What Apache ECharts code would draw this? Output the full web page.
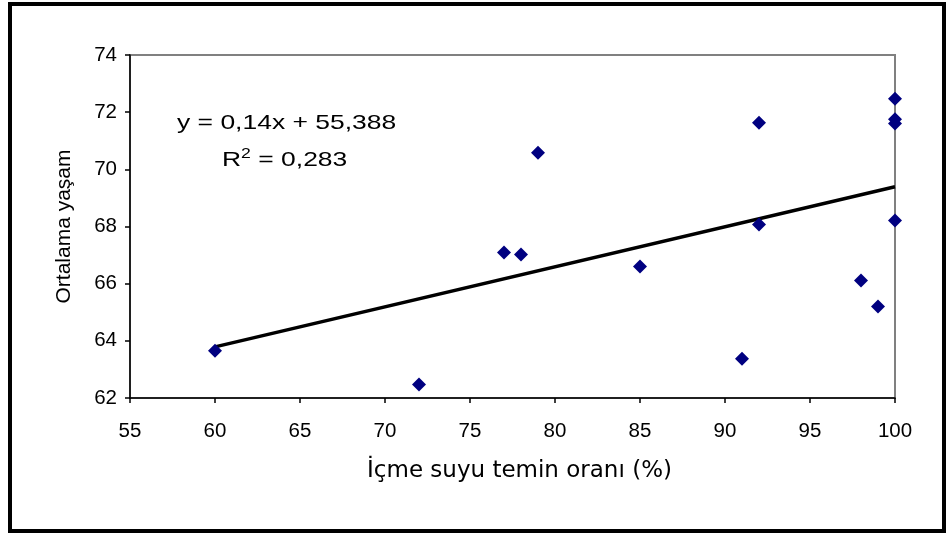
<!DOCTYPE html>
<html>
<head>
<meta charset="utf-8">
<script src="https://cdn.jsdelivr.net/npm/echarts@6/dist/echarts.min.js"></script>
<style>
html,body{margin:0;padding:0;background:#fff;}
#chart{width:946px;height:535px;}
</style>
</head>
<body>
<div id="chart"></div>
<script>
// Data
var waterSupply = [60, 72, 77, 78, 79, 85, 91, 92, 92, 98, 99, 100, 100, 100, 100];
var lifeExpectancy = [63.65, 62.47, 67.09, 67.02, 70.58, 66.6, 63.37, 71.63, 68.07, 66.11, 65.2, 72.47, 71.75, 71.6, 68.21];
var trendSlope = 0.14;
var trendIntercept = 55.388;
var equationText = 'y = 0,14x + 55,388';
var r2Text = '0,283';
var xAxisName = 'İçme suyu temin oranı (%)';
var yAxisName = 'Ortalama yaşam';
var xTicks = [55, 100, 5];
var yTicks = [62, 74, 2];

var points = waterSupply.map(function (x, i) { return [x, lifeExpectancy[i]]; });
var xMin = Math.min.apply(null, waterSupply);
var xMax = Math.max.apply(null, waterSupply);
var trend = [[xMin, trendSlope * xMin + trendIntercept], [xMax, trendSlope * xMax + trendIntercept]];

var chart = echarts.init(document.getElementById('chart'), null, {renderer: 'canvas'});
chart.setOption({
  animation: false,
  backgroundColor: '#ffffff',
  grid: {
    left: 130, right: 51, top: 55, bottom: 137,
    show: true, borderColor: '#808080', borderWidth: 2, backgroundColor: 'transparent'
  },
  xAxis: {
    type: 'value', min: xTicks[0], max: xTicks[1], interval: xTicks[2],
    name: xAxisName, nameLocation: 'middle', nameGap: 62,
    nameTextStyle: {fontFamily: 'DejaVu Sans', fontSize: 23, color: '#000', padding: [0, 0, 0, 14]},
    axisLine: {show: true, onZero: false, lineStyle: {color: '#000', width: 1.5}},
    axisTick: {show: true, inside: false, length: 5, lineStyle: {color: '#000', width: 1.5}},
    axisLabel: {fontFamily: 'Liberation Sans', fontSize: 20.5, color: '#000', margin: 23},
    splitLine: {show: false}
  },
  yAxis: {
    type: 'value', min: yTicks[0], max: yTicks[1], interval: yTicks[2],
    name: yAxisName, nameLocation: 'middle', nameGap: 55, nameRotate: 90,
    nameTextStyle: {fontFamily: 'Liberation Sans', fontSize: 21, color: '#000'},
    axisLine: {show: true, onZero: false, lineStyle: {color: '#000', width: 1.5}},
    axisTick: {show: true, inside: false, length: 5, lineStyle: {color: '#000', width: 1.5}},
    axisLabel: {fontFamily: 'Liberation Sans', fontSize: 20.5, color: '#000', margin: 13},
    splitLine: {show: false}
  },
  series: [
    {
      type: 'line', data: trend, symbol: 'none', silent: true,
      lineStyle: {color: '#000', width: 3.5}, z: 2
    },
    {
      type: 'scatter', data: points, symbol: 'diamond', symbolSize: 14,
      itemStyle: {color: '#000080', opacity: 1}, z: 3
    }
  ],
  graphic: [
    {
      type: 'rect', silent: true, z: 100,
      shape: {x: 10, y: 4, width: 934, height: 527},
      style: {fill: 'none', stroke: '#000', lineWidth: 4}
    },
    {
      type: 'text', x: 177, y: 123, scaleX: 1.26, z: 100,
      style: {text: equationText, font: '21px "Liberation Sans"', fill: '#000', verticalAlign: 'middle', align: 'left'}
    },
    {
      type: 'text', x: 222, y: 160, scaleX: 1.26, z: 100,
      style: {
        text: 'R{sup|2} = ' + r2Text,
        font: '21px "Liberation Sans"', fill: '#000', verticalAlign: 'middle', align: 'left',
        rich: {sup: {font: '14px "Liberation Sans"', fill: '#000', verticalAlign: 'top', lineHeight: 26}}
      }
    }
  ]
});
</script>
</body>
</html>
